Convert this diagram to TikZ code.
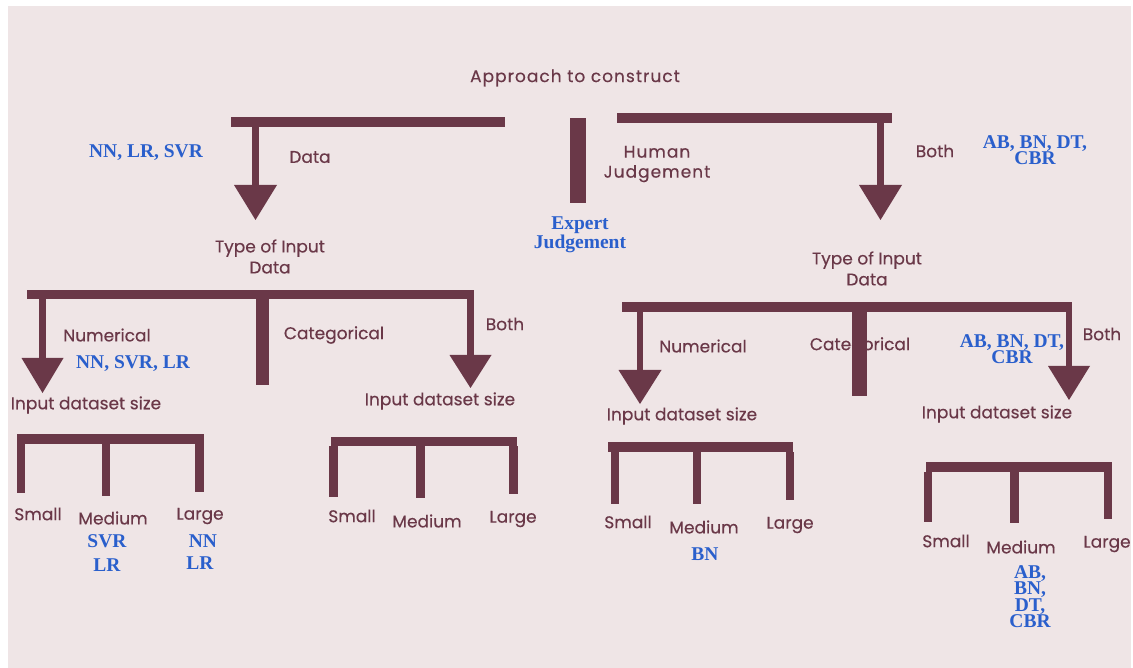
\documentclass[tikz,border=0pt]{standalone}
\usepackage{fontspec}
\setmainfont{Poppins}[FakeBold=0.3]
\newfontfamily\tagfont{Liberation Serif}
\definecolor{paper}{HTML}{EFE5E6}
\definecolor{bar}{HTML}{6A3848}
\definecolor{ink}{HTML}{6A3848}
\definecolor{tagblue}{HTML}{2A5FCC}
\tikzset{
  lbl/.style={text=ink, font=\fontsize{17}{21}\selectfont, align=center, inner sep=0pt},
  wide/.style={lbl, font=\fontsize{17}{20}\selectfont\addfontfeature{LetterSpace=6}},
  tag/.style={text=tagblue, font=\tagfont\bfseries\fontsize{19.5}{16.5}\selectfont, align=center, inner sep=0pt},
  beam/.style={fill=bar},
}
% vertical arrow stem with a triangular head: x-left, x-right, y-top, y-head, half-width of head, y-tip
\newcommand{\downarrowbar}[6]{%
  \fill[beam] (#1,#3) rectangle (#2,#4+1);
  \fill[beam] ({(#1+#2)/2-#5},#4) -- ({(#1+#2)/2+#5},#4) -- ({(#1+#2)/2},#6) -- cycle;}
\begin{document}
\begin{tikzpicture}[x=1pt,y=-1pt]
\useasboundingbox (0,0) rectangle (1133,668);
\fill[white] (0,0) rectangle (1133,668);
\fill[paper] (8,6) rectangle (1131,668);

% ---------- labels ----------
\node[wide] (root) at (575,78) {Approach to construct};
\node[tag] (tdata) at (146,153) {NN, LR, SVR};
\node[lbl] (data) at (310,157) {Data};
\node[wide] (human) at (657,164) {Human\\Judgement};
\node[tag] (expert) at (580,235) {Expert\\Judgement};
\node[lbl] (both) at (935,151) {Both};
\node[tag] (tboth) at (1035,150) {AB, BN, DT,\\CBR};

\node[lbl] (typeL) at (270,256.5) {Type of Input\\Data};
\node[lbl] (typeR) at (867,268.5) {Type of Input\\Data};

\node[lbl] (numL) at (107,335) {Numerical};
\node[tag] (tnumL) at (133,364) {NN, SVR, LR};
\node[lbl] (catL) at (334,335) {Categorical};
\node[lbl] (bothL) at (505,324) {Both};
\node[lbl] (sizeA) at (86,405) {Input dataset size};
\node[lbl] (sizeB) at (440,401) {Input dataset size};

\node[lbl] (numR) at (703,346) {Numerical};
\node[lbl] (catR) at (860,346) {Categorical};
\node[tag] (tbothR) at (1012,349) {AB, BN, DT,\\CBR};
\node[lbl] (bothR) at (1102,334) {Both};
\node[lbl] (sizeC) at (682,416) {Input dataset size};
\node[lbl] (sizeD) at (997,414) {Input dataset size};

\node[lbl] (smA) at (38,514) {Small};
\node[lbl] (mdA) at (113,518) {Medium};
\node[lbl] (lgA) at (200,516) {Large};
\node[tag] (mdA1) at (107,541) {SVR};
\node[tag] (mdA2) at (107,565) {LR};
\node[tag] (lgA1) at (203,541) {NN};
\node[tag] (lgA2) at (200,563) {LR};

\node[lbl] (smB) at (352,516) {Small};
\node[lbl] (mdB) at (427,521) {Medium};
\node[lbl] (lgB) at (513,519) {Large};

\node[lbl] (smC) at (628,522) {Small};
\node[lbl] (mdC) at (704,527) {Medium};
\node[lbl] (lgC) at (790,525) {Large};
\node[tag] (mdC1) at (705,554) {BN};

\node[lbl] (smD) at (946,541) {Small};
\node[lbl] (mdD) at (1021,547) {Medium};
\node[lbl] (lgD) at (1107,544) {Large};
\node[tag] (mdD1) at (1030,596.5) {AB,\\BN,\\DT,\\CBR};

% ---------- top level ----------
\fill[beam] (231,117) rectangle (505,127);
\downarrowbar{252}{259}{127}{185}{21.5}{220}
\fill[beam] (570,118) rectangle (586,203);
\fill[beam] (617,113) rectangle (892,123);
\downarrowbar{877}{884}{123}{185}{21.5}{220}

% ---------- second level, left ----------
\fill[beam] (27,290) rectangle (474,299);
\downarrowbar{39}{46}{299}{358}{21}{393}
\fill[beam] (256,299) rectangle (269,385);
\downarrowbar{467}{474}{299}{355}{21}{388}

% ---------- second level, right ----------
\fill[beam] (622,302) rectangle (1072,312);
\downarrowbar{637}{643}{312}{370}{21.5}{404}
\fill[beam] (852,312) rectangle (867,396);
\downarrowbar{1066}{1072}{302}{366}{21}{400}

% ---------- dataset size brackets ----------
\fill[beam] (17,434) rectangle (204,444);
\fill[beam] (17,444) rectangle (25,493);
\fill[beam] (102,444) rectangle (110,496);
\fill[beam] (195,444) rectangle (204,492);

\fill[beam] (331,437) rectangle (517,446);
\fill[beam] (329,446) rectangle (338,497);
\fill[beam] (416,446) rectangle (425,498);
\fill[beam] (509,446) rectangle (518,494);

\fill[beam] (608,442) rectangle (793,452);
\fill[beam] (611,452) rectangle (619,504);
\fill[beam] (693,452) rectangle (701,504);
\fill[beam] (786,452) rectangle (794,500);

\fill[beam] (926,462) rectangle (1112,472);
\fill[beam] (924,472) rectangle (932,522);
\fill[beam] (1010,472) rectangle (1019,523);
\fill[beam] (1104,472) rectangle (1112,519);
\end{tikzpicture}
\end{document}
